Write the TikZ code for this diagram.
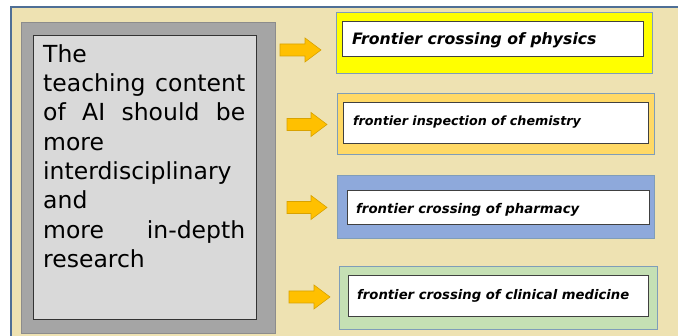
\documentclass[tikz,border=0pt]{standalone}
\usepackage{fontspec}
\setmainfont{DejaVu Sans}
\usetikzlibrary{positioning}
\definecolor{bgtan}{HTML}{EEE2B2}
\definecolor{framebl}{HTML}{4F6F96}
\definecolor{grayout}{HTML}{A5A5A5}
\definecolor{grayin}{HTML}{D9D9D9}
\definecolor{boxedge}{HTML}{7F9DB9}
\definecolor{ylw}{HTML}{FFFF00}
\definecolor{orl}{HTML}{FFD966}
\definecolor{blu}{HTML}{8EA9DB}
\definecolor{grn}{HTML}{C5E0B4}
\definecolor{arrfill}{HTML}{FFC000}
\definecolor{arredge}{HTML}{D8A200}
\tikzset{
  outerbox/.style={draw=boxedge, line width=0.8pt},
  innerbox/.style={draw=black!75, fill=white, line width=1pt},
  lab/.style={anchor=west, inner sep=0pt, font=\bfseries\itshape},
  blockarr/.style={fill=arrfill, draw=arredge, line width=0.6pt},
}
\newcommand{\blkarrow}[3]{% left x, center y, length
  \filldraw[blockarr] (#1,#2-6) -- (#1+#3-16,#2-6) -- (#1+#3-16,#2-12) -- (#1+#3,#2)
    -- (#1+#3-16,#2+12) -- (#1+#3-16,#2+6) -- (#1,#2+6) -- cycle;
}
\begin{document}
\begin{tikzpicture}[x=1pt,y=-1pt]
\useasboundingbox (0,0) rectangle (678,336);
\clip (0,0) rectangle (678,336);
\fill[white] (0,0) rectangle (678,336);
% outer frame
\fill[bgtan] (11,7) rectangle (690,350);
\draw[framebl, line width=1.6pt] (11,350) -- (11,7) -- (690,7);
% left grey boxes
\filldraw[fill=grayout, draw=black!45, line width=0.6pt] (21,22) rectangle (275,333);
\filldraw[fill=grayin, draw=black!80, line width=0.8pt] (33,35) rectangle (256,319);
\node[anchor=north west, text width=202pt, align=left, inner sep=0pt,
      font=\fontsize{23.5}{29.3}\selectfont] (main) at (43,44.2)
  {The\\
   teaching\hfill content\\
   of\hfill AI\hfill should\hfill be\\
   more\\
   interdisciplinary\\
   and\\
   more\hfill in-depth\\
   research};
% arrows
\blkarrow{280}{50}{41}
\blkarrow{287}{124.5}{40}
\blkarrow{287}{207.5}{40}
\blkarrow{289}{297}{41}
% right boxes
\filldraw[outerbox, fill=ylw] (336,12) rectangle (652,73);
\filldraw[innerbox] (342,22) rectangle (643,57);
\node[lab, font=\fontsize{15.7}{18}\selectfont\bfseries\itshape] (t1) at (352,40) {Frontier crossing of physics};
\filldraw[outerbox, fill=orl] (337,93) rectangle (654,154);
\filldraw[innerbox] (343,103) rectangle (648,144);
\node[lab, font=\fontsize{12.7}{15}\selectfont\bfseries\itshape] (t2) at (353,122) {frontier inspection of chemistry};
\filldraw[outerbox, fill=blu] (337,175) rectangle (654,238);
\filldraw[innerbox] (347,191) rectangle (649,225);
\node[lab, font=\fontsize{13.3}{15}\selectfont\bfseries\itshape] (t3) at (356,210) {frontier crossing of pharmacy};
\filldraw[outerbox, fill=grn] (339,266) rectangle (657,329);
\filldraw[innerbox] (348,276) rectangle (648,317);
\node[lab, font=\fontsize{13.2}{15}\selectfont\bfseries\itshape] (t4) at (357,296) {frontier crossing of clinical medicine};
\end{tikzpicture}
\end{document}
